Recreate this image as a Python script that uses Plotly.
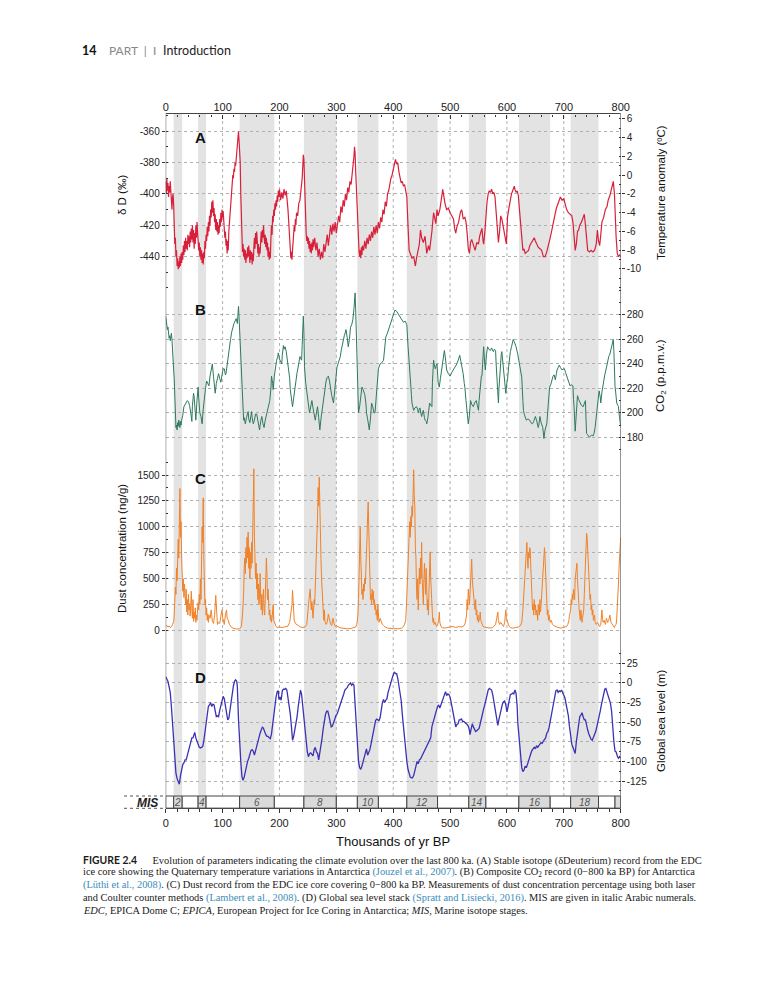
import plotly.graph_objects as go

W, H = 781, 1000
PAGE_MARGIN = 8  # browser body margin around the figure (each side)
FW, FH = W - 2 * PAGE_MARGIN, H - 2 * PAGE_MARGIN

# ---------------- data ----------------
# (A) EDC deuterium record: (age ka, deltaD permil)
DELTA_D = [(0,-392),(1,-400),(2,-390),(3,-398),(4,-393),(5,-402),(6,-395),(7,-399),(8,-392),(9,-401),(10,-404),(11,-410),(12,-402),(13,-400),(14,-407),(15,-418),(16,-432),(17,-428),(18,-440),(19,-436),(20,-446),(21,-441),(22,-448),(23,-443),(24,-447),(25,-440),(26,-446),(27,-438),(28,-444),(29,-437),(30,-442),(31,-433),(32,-439),(33,-430),(34,-437),(35,-428),(36,-435),(37,-430),(38,-436),(39,-426),(40,-432),(41,-427),(42,-434),(43,-424),(44,-431),(45,-422),(46,-429),(47,-420),(48,-431),(49,-423),(50,-435),(51,-425),(52,-432),(53,-420),(54,-428),(55,-418),(56,-426),(57,-430),(58,-436),(59,-431),(60,-440),(61,-434),(62,-442),(63,-436),(64,-444),(65,-438),(66,-445),(67,-437),(68,-441),(69,-430),(70,-435),(71,-426),(72,-430),(73,-421),(74,-427),(75,-418),(76,-424),(77,-414),(78,-420),(79,-410),(80,-415),(81,-405),(82,-412),(83,-404),(84,-414),(85,-409),(86,-418),(87,-413),(88,-423),(89,-416),(90,-424),(91,-418),(92,-426),(93,-420),(94,-425),(95,-416),(96,-421),(97,-412),(98,-418),(99,-410),(100,-415),(101,-411),(102,-418),(103,-422),(104,-428),(105,-424),(106,-433),(107,-429),(108,-438),(109,-430),(110,-436),(111,-424),(112,-418),(113,-410),(114,-405),(115,-400),(116,-396),(117,-392),(118,-388),(119,-390),(120,-384),(121,-386),(122,-380),(123,-382),(124,-377),(125,-372),(126,-367),(127,-362),(128,-360),(129,-366),(130,-372),(131,-380),(132,-400),(133,-420),(134,-434),(135,-437),(136,-432),(137,-440),(138,-435),(139,-442),(140,-436),(141,-444),(142,-438),(143,-441),(144,-434),(145,-440),(146,-433),(147,-439),(148,-444),(149,-436),(150,-442),(151,-437),(152,-445),(153,-438),(154,-443),(155,-434),(156,-428),(157,-435),(158,-425),(159,-432),(160,-424),(161,-430),(162,-438),(163,-432),(164,-440),(165,-434),(166,-438),(167,-430),(168,-424),(169,-431),(170,-423),(171,-428),(172,-420),(173,-427),(174,-432),(175,-426),(176,-434),(177,-428),(178,-436),(179,-431),(180,-440),(181,-434),(182,-442),(183,-437),(184,-441),(185,-428),(186,-420),(187,-426),(188,-414),(189,-418),(190,-410),(191,-414),(192,-406),(193,-410),(194,-404),(195,-408),(196,-401),(197,-405),(198,-398),(199,-402),(200,-397),(202,-404),(204,-399),(206,-403),(208,-397),(210,-401),(212,-398),(214,-404),(215,-410),(216,-416),(217,-422),(218,-430),(219,-436),(220,-441),(221,-437),(222,-442),(223,-436),(224,-430),(225,-425),(226,-420),(227,-424),(228,-416),(229,-420),(230,-412),(232,-414),(234,-406),(236,-404),(238,-398),(240,-390),(241,-382),(242,-375),(243,-378),(244,-395),(245,-408),(246,-418),(247,-425),(248,-430),(249,-427),(250,-432),(251,-428),(252,-435),(253,-430),(254,-437),(255,-432),(256,-438),(257,-431),(258,-436),(259,-429),(260,-434),(262,-428),(264,-436),(266,-431),(268,-440),(270,-435),(272,-442),(274,-437),(276,-441),(278,-432),(280,-437),(282,-430),(284,-426),(286,-433),(288,-424),(290,-420),(292,-426),(294,-419),(296,-424),(298,-418),(300,-425),(302,-420),(304,-414),(306,-418),(308,-408),(310,-412),(312,-404),(314,-408),(316,-400),(318,-404),(320,-396),(322,-399),(324,-392),(326,-394),(328,-388),(330,-382),(331,-376),(332,-370),(333,-374),(334,-385),(335,-395),(336,-405),(337,-415),(338,-425),(339,-432),(340,-437),(341,-440),(342,-436),(343,-441),(344,-434),(345,-439),(346,-433),(348,-436),(350,-430),(352,-435),(354,-428),(356,-432),(358,-426),(360,-430),(362,-424),(364,-428),(366,-421),(368,-426),(370,-420),(372,-425),(374,-418),(376,-422),(378,-415),(380,-418),(382,-410),(384,-413),(386,-405),(388,-408),(390,-400),(392,-398),(394,-393),(396,-390),(398,-388),(400,-385),(402,-382),(404,-378),(406,-381),(408,-380),(410,-386),(412,-391),(414,-393),(416,-392),(418,-395),(420,-394),(422,-398),(424,-402),(426,-420),(428,-436),(430,-438),(433,-441),(436,-440),(439,-446),(441,-441),(444,-436),(446,-432),(448,-423),(450,-428),(453,-431),(456,-427),(459,-438),(462,-433),(464,-436),(466,-431),(468,-424),(471,-412),(473,-416),(475,-419),(477,-410),(479,-414),(482,-410),(484,-406),(486,-400),(487,-397),(489,-402),(491,-406),(494,-410),(497,-409),(500,-412),(503,-414),(506,-416),(508,-422),(510,-425),(512,-421),(515,-418),(518,-412),(520,-410),(521,-411),(523,-416),(526,-415),(528,-418),(530,-425),(532,-435),(534,-438),(536,-431),(538,-429),(541,-433),(544,-436),(547,-431),(550,-432),(552,-427),(554,-425),(556,-422),(558,-430),(559,-432),(561,-425),(563,-414),(565,-405),(567,-400),(569,-398),(571,-399),(573,-397),(575,-400),(577,-399),(579,-402),(581,-410),(583,-420),(585,-431),(587,-424),(589,-414),(591,-416),(594,-421),(597,-428),(599,-432),(601,-415),(603,-410),(606,-404),(608,-400),(611,-397),(613,-395),(614,-397),(616,-399),(618,-398),(620,-401),(622,-410),(624,-420),(626,-431),(628,-436),(630,-435),(632,-438),(635,-437),(638,-436),(640,-433),(643,-431),(645,-430),(648,-428),(650,-430),(653,-432),(655,-434),(658,-435),(661,-436),(664,-440),(667,-440),(670,-437),(673,-433),(676,-428),(679,-423),(682,-416),(684,-414),(687,-409),(690,-406),(692,-403),(694,-402),(697,-404),(700,-403),(702,-406),(705,-410),(708,-412),(711,-413),(714,-414),(716,-418),(718,-425),(720,-436),(722,-432),(724,-424),(726,-423),(728,-420),(731,-418),(734,-414),(736,-413),(738,-420),(740,-428),(742,-436),(745,-437),(748,-436),(751,-437),(754,-436),(757,-432),(759,-423),(761,-430),(763,-433),(765,-426),(767,-418),(770,-415),(773,-410),(776,-408),(778,-404),(781,-401),(784,-397),(786,-394),(787,-392),(789,-400),(790,-414),(792,-428),(794,-438),(796,-440),(798,-439),(800,-440)]

# (B) composite CO2 record: (age ka, ppmv)
CO2 = [(0,279),(1,276),(2,272),(3,268),(4,270),(5,266),(6,261),(7,263),(8,259),(9,262),(10,265),(11,260),(12,245),(13,238),(14,235),(15,228),(16,205),(17,192),(18,188),(19,190),(20,186),(21,192),(22,189),(23,194),(24,190),(25,188),(26,193),(27,190),(28,194),(30,198),(32,205),(34,207),(36,209),(38,210),(40,209),(42,206),(44,200),(46,193),(47,206),(49,216),(50,213),(51,202),(53,194),(55,210),(57,221),(58,212),(60,200),(62,197),(64,191),(66,203),(68,213),(70,220),(72,226),(74,224),(76,222),(78,230),(80,236),(82,240),(84,230),(86,220),(87,216),(89,224),(91,230),(93,232),(95,228),(97,225),(99,231),(101,236),(103,236),(105,231),(106,232),(108,240),(110,249),(112,253),(114,260),(116,266),(118,270),(120,273),(122,275),(124,277),(126,273),(127,280),(128,287),(129,278),(130,268),(131,262),(132,248),(133,235),(134,224),(135,210),(136,200),(137,194),(138,196),(140,191),(142,196),(144,199),(145,201),(146,195),(148,192),(150,198),(151,201),(152,196),(154,191),(156,194),(158,199),(160,199),(162,193),(164,189),(165,186),(167,193),(169,197),(171,191),(173,188),(175,194),(177,199),(178,200),(180,204),(182,208),(183,210),(185,220),(186,230),(188,224),(189,219),(191,230),(193,238),(195,243),(197,246),(198,249),(200,244),(201,243),(203,240),(204,240),(205,247),(207,255),(208,252),(210,254),(212,250),(213,246),(215,242),(216,238),(218,228),(219,219),(221,210),(223,205),(225,212),(227,221),(229,228),(231,233),(232,235),(234,240),(236,246),(238,244),(239,243),(240,256),(241,270),(242,279),(243,265),(244,238),(246,225),(248,216),(250,208),(252,203),(253,200),(255,205),(257,210),(259,204),(261,198),(263,194),(265,200),(267,205),(269,196),(271,186),(273,195),(276,205),(278,215),(280,221),(282,226),(284,229),(286,230),(288,226),(290,219),(292,214),(294,210),(295,208),(297,217),(299,230),(301,237),(303,240),(305,243),(307,246),(309,252),(311,258),(312,260),(314,263),(316,266),(317,268),(319,262),(321,254),(323,260),(325,270),(327,272),(329,276),(331,285),(333,298),(334,285),(335,268),(336,254),(337,235),(338,215),(339,200),(341,205),(343,215),(345,221),(347,219),(349,216),(350,215),(352,208),(353,200),(355,195),(357,190),(358,186),(360,195),(362,208),(364,205),(366,200),(368,200),(370,215),(372,229),(374,236),(377,240),(380,241),(383,243),(385,252),(387,262),(389,264),(392,268),(395,273),(397,276),(400,279),(403,284),(406,283),(409,281),(412,279),(415,276),(418,274),(421,275),(424,272),(426,255),(428,238),(430,227),(432,215),(433,208),(435,203),(436,202),(438,204),(441,205),(443,203),(444,200),(446,203),(447,204),(449,199),(450,197),(452,201),(453,202),(455,196),(456,194),(458,193),(459,191),(461,196),(464,208),(466,206),(468,205),(469,225),(471,243),(472,240),(474,236),(476,239),(477,240),(479,225),(481,221),(483,228),(485,235),(487,244),(490,251),(492,244),(494,235),(497,232),(500,230),(503,233),(506,235),(509,238),(512,240),(515,244),(517,247),(519,242),(521,238),(523,232),(525,224),(526,221),(528,210),(529,205),(531,196),(532,191),(534,198),(536,210),(538,207),(541,205),(543,208),(546,210),(548,206),(550,202),(551,210),(553,224),(555,230),(556,230),(558,245),(559,254),(561,240),(562,235),(564,248),(566,254),(568,252),(571,251),(573,253),(576,250),(578,252),(580,251),(581,240),(582,229),(584,215),(585,208),(586,220),(588,237),(590,248),(591,250),(593,241),(594,237),(596,228),(598,216),(600,225),(601,227),(603,238),(604,243),(606,250),(608,254),(610,258),(611,260),(613,258),(616,254),(619,248),(622,240),(624,234),(626,229),(628,210),(629,202),(631,198),(634,194),(637,195),(640,194),(642,192),(645,191),(647,193),(650,197),(652,194),(655,188),(656,190),(658,197),(660,192),(663,188),(665,179),(667,186),(670,191),(672,205),(673,216),(675,221),(677,223),(679,228),(681,230),(683,231),(685,227),(687,232),(688,235),(690,237),(692,239),(694,237),(697,235),(699,236),(701,236),(703,233),(705,230),(708,226),(711,222),(713,223),(716,222),(717,211),(718,205),(720,185),(722,200),(724,214),(726,211),(729,208),(731,206),(734,205),(736,207),(738,210),(739,195),(740,183),(742,182),(745,180),(747,181),(749,182),(751,181),(753,183),(755,188),(758,202),(760,210),(762,218),(764,213),(765,208),(767,217),(770,227),(772,231),(774,235),(776,240),(779,246),(781,248),(783,252),(785,255),(787,260),(788,250),(790,222),(792,213),(793,208),(795,206),(796,205),(798,196),(800,189)]

# (C) EDC dust concentration: (age ka, ng/g)
DUST = [(0,40),(2,50),(4,35),(6,45),(8,30),(10,38),(12,60),(14,90),(15,150),(16,300),(17,420),(18,350),(19,600),(20,480),(21,750),(22,880),(23,700),(24,1000),(25,1370),(26,900),(27,1050),(28,700),(29,600),(30,380),(31,500),(32,320),(33,450),(34,360),(35,250),(36,400),(37,180),(38,300),(39,150),(40,350),(41,200),(42,260),(43,140),(44,240),(45,380),(46,200),(47,120),(48,300),(49,90),(50,180),(51,120),(52,220),(53,80),(54,150),(55,100),(56,200),(57,270),(58,200),(59,350),(60,250),(61,500),(62,300),(63,750),(64,1000),(65,850),(66,1280),(67,700),(68,400),(69,250),(70,300),(71,150),(72,220),(73,100),(74,160),(75,80),(76,150),(78,120),(80,200),(82,90),(84,70),(86,150),(88,340),(89,200),(90,100),(91,60),(93,80),(95,70),(97,140),(99,200),(100,130),(101,90),(103,60),(105,150),(107,200),(108,120),(110,100),(112,60),(114,40),(116,30),(118,25),(120,20),(125,15),(130,18),(133,40),(135,150),(136,250),(137,350),(138,600),(139,700),(140,550),(141,800),(142,650),(143,900),(144,700),(145,950),(146,600),(147,800),(148,500),(149,750),(150,600),(151,850),(152,650),(153,1000),(154,1300),(155,1560),(156,900),(157,600),(158,500),(159,650),(160,400),(161,550),(162,300),(163,450),(164,250),(165,350),(166,550),(167,300),(168,200),(169,350),(170,150),(171,300),(172,400),(173,200),(174,150),(175,300),(176,500),(177,700),(178,550),(179,300),(180,400),(181,200),(182,150),(183,200),(184,100),(185,150),(186,80),(187,120),(188,180),(189,250),(190,100),(191,80),(192,60),(194,40),(196,30),(200,35),(205,30),(210,40),(215,45),(218,80),(220,150),(222,250),(223,390),(224,300),(225,150),(226,100),(228,70),(230,60),(235,40),(240,30),(245,35),(248,60),(250,150),(251,250),(252,300),(253,350),(254,400),(255,300),(256,200),(257,280),(258,200),(259,120),(260,200),(261,300),(262,250),(263,400),(264,500),(265,700),(266,900),(267,1100),(268,1380),(269,1200),(270,1480),(271,1100),(272,900),(273,700),(274,500),(275,350),(276,250),(277,150),(278,100),(279,200),(280,90),(282,60),(284,80),(286,160),(288,100),(290,60),(292,50),(294,120),(296,70),(298,40),(300,50),(305,30),(310,25),(315,20),(320,18),(325,20),(330,25),(334,35),(336,60),(338,150),(339,300),(340,600),(341,800),(342,1000),(343,700),(344,450),(345,350),(346,400),(347,300),(348,450),(349,380),(350,500),(351,450),(352,600),(353,700),(354,900),(355,1100),(356,1240),(357,1000),(358,700),(359,400),(360,300),(361,350),(362,250),(363,400),(364,300),(365,380),(366,250),(367,300),(368,200),(369,250),(370,150),(371,200),(372,100),(373,250),(374,150),(375,80),(377,120),(379,80),(381,60),(383,50),(386,35),(390,25),(395,20),(400,18),(405,20),(410,18),(415,25),(418,40),(420,60),(422,100),(423,200),(424,350),(425,450),(426,600),(427,800),(428,1000),(429,1050),(430,900),(431,1100),(432,1000),(433,1200),(434,1100),(435,1400),(436,1550),(437,1300),(438,1200),(439,800),(440,700),(441,400),(442,300),(443,500),(444,200),(445,400),(446,600),(447,450),(448,700),(449,500),(450,850),(451,500),(452,400),(453,250),(454,500),(455,650),(456,500),(457,350),(458,600),(459,400),(460,200),(461,300),(462,150),(463,400),(464,600),(465,760),(466,500),(467,300),(468,250),(469,150),(470,80),(471,120),(472,60),(474,80),(476,40),(478,50),(480,100),(481,180),(482,80),(484,40),(486,30),(490,25),(495,30),(500,35),(505,40),(510,30),(515,40),(520,35),(525,50),(527,80),(529,150),(530,300),(531,200),(532,400),(533,300),(534,250),(535,350),(536,500),(537,600),(538,690),(539,500),(540,400),(541,350),(542,300),(543,250),(544,200),(545,300),(546,150),(547,200),(548,100),(549,150),(550,80),(552,120),(553,180),(554,100),(556,60),(558,40),(560,35),(565,30),(570,25),(575,30),(578,50),(580,60),(582,120),(584,180),(585,100),(587,60),(589,80),(591,60),(594,40),(596,80),(597,150),(598,200),(599,120),(601,70),(603,50),(606,30),(610,25),(615,30),(620,35),(624,50),(626,80),(628,200),(629,300),(630,400),(631,500),(632,600),(633,700),(634,800),(635,850),(636,700),(637,600),(638,750),(639,700),(640,800),(641,780),(642,600),(643,400),(644,300),(645,200),(646,250),(647,150),(648,300),(649,200),(650,250),(651,150),(652,200),(653,180),(654,100),(655,250),(656,200),(657,150),(658,300),(659,180),(660,250),(661,350),(662,500),(663,600),(664,650),(665,750),(666,800),(667,700),(668,500),(669,350),(670,250),(671,150),(672,200),(673,100),(674,150),(676,80),(678,100),(680,60),(682,50),(685,40),(690,30),(695,25),(700,30),(705,40),(707,60),(709,100),(710,150),(712,200),(713,300),(714,250),(715,350),(716,300),(717,400),(718,350),(719,300),(720,500),(721,550),(722,600),(723,650),(724,500),(725,350),(726,300),(727,200),(728,150),(729,100),(730,200),(731,150),(732,80),(733,120),(734,150),(735,200),(736,350),(737,500),(738,700),(739,850),(740,940),(741,900),(742,800),(743,700),(744,500),(745,400),(746,300),(747,350),(748,200),(749,250),(750,150),(751,200),(752,100),(754,150),(755,80),(757,60),(759,80),(761,50),(763,40),(765,60),(766,150),(767,200),(768,120),(769,80),(771,100),(773,60),(775,120),(777,80),(779,100),(781,150),(783,80),(785,60),(787,40),(789,30),(790,50),(792,60),(793,120),(795,300),(796,450),(797,600),(798,750),(800,900)]

# (D) global sea level stack: (age ka, m)
SEA_LEVEL = [(0,8),(2,5),(4,2),(6,-5),(8,-12),(10,-30),(12,-55),(14,-73),(16,-100),(18,-115),(20,-122),(22,-127),(24,-129),(26,-118),(28,-110),(30,-104),(32,-102),(34,-98),(36,-98),(38,-92),(40,-85),(42,-78),(44,-76),(46,-70),(48,-70),(50,-66),(51,-63),(53,-70),(55,-75),(57,-80),(59,-82),(61,-83),(63,-82),(65,-81),(67,-74),(69,-64),(71,-50),(73,-40),(75,-30),(77,-28),(79,-25),(81,-30),(83,-27),(85,-28),(87,-36),(89,-43),(91,-42),(93,-43),(95,-35),(97,-28),(99,-20),(101,-17),(103,-20),(105,-28),(107,-40),(109,-47),(111,-45),(113,-35),(115,-22),(117,-10),(119,-4),(121,2),(123,4),(125,2),(126,-5),(128,-47),(130,-80),(132,-100),(134,-119),(136,-124),(138,-120),(140,-112),(142,-107),(144,-100),(146,-96),(148,-92),(150,-86),(152,-85),(154,-87),(156,-92),(158,-86),(160,-78),(162,-72),(164,-68),(166,-64),(168,-60),(170,-56),(172,-58),(174,-64),(176,-66),(178,-68),(180,-68),(182,-70),(184,-71),(186,-65),(188,-55),(190,-42),(192,-30),(194,-18),(196,-11),(198,-10),(199,-21),(201,-18),(203,-22),(205,-10),(207,-8),(209,-8),(211,-7),(213,-9),(215,-18),(217,-30),(219,-39),(221,-55),(223,-73),(225,-68),(227,-60),(229,-50),(231,-43),(233,-30),(235,-20),(237,-9),(239,-15),(241,-30),(243,-50),(245,-65),(247,-78),(249,-88),(251,-94),(253,-90),(255,-89),(257,-92),(259,-93),(261,-85),(263,-82),(265,-88),(267,-90),(269,-98),(271,-90),(273,-82),(275,-70),(277,-58),(279,-47),(281,-40),(283,-36),(285,-36),(287,-42),(289,-50),(291,-56),(293,-55),(295,-52),(297,-47),(299,-42),(301,-40),(303,-36),(305,-32),(307,-28),(309,-24),(311,-18),(313,-14),(315,-9),(317,-8),(319,-6),(321,-3),(323,-2),(325,0),(327,-3),(329,-1),(331,-3),(333,-30),(335,-55),(337,-80),(339,-100),(341,-108),(343,-110),(345,-106),(347,-100),(349,-93),(351,-87),(353,-84),(355,-92),(357,-88),(359,-85),(361,-78),(363,-70),(365,-64),(367,-55),(369,-48),(371,-46),(373,-47),(375,-48),(377,-44),(379,-32),(381,-25),(383,-21),(385,-25),(387,-22),(389,-20),(391,-12),(393,-6),(395,-3),(397,2),(399,8),(401,12),(402,14),(404,12),(406,12),(408,6),(410,-5),(412,-9),(414,-22),(416,-40),(418,-56),(420,-75),(422,-88),(424,-100),(426,-110),(428,-116),(430,-120),(432,-121),(434,-121),(436,-118),(438,-112),(440,-108),(442,-100),(444,-103),(446,-98),(448,-97),(450,-94),(452,-92),(454,-88),(456,-85),(458,-83),(460,-80),(462,-77),(464,-74),(466,-70),(468,-56),(470,-50),(472,-43),(474,-37),(476,-35),(478,-30),(480,-28),(482,-32),(484,-28),(486,-22),(488,-18),(490,-15),(492,-11),(494,-16),(496,-14),(498,-15),(500,-18),(502,-25),(504,-33),(506,-40),(508,-52),(510,-56),(512,-53),(514,-52),(516,-47),(518,-47),(520,-46),(522,-49),(524,-49),(526,-50),(528,-51),(530,-53),(532,-55),(534,-60),(535,-66),(537,-57),(539,-52),(541,-56),(543,-60),(545,-62),(547,-61),(549,-60),(551,-58),(553,-52),(555,-44),(557,-38),(559,-33),(561,-28),(563,-20),(565,-13),(567,-9),(569,-7),(571,-8),(573,-9),(575,-15),(577,-24),(579,-34),(581,-43),(583,-50),(584,-54),(586,-46),(588,-38),(590,-30),(592,-27),(594,-24),(596,-23),(598,-28),(600,-37),(602,-30),(604,-20),(606,-15),(608,-14),(610,-13),(612,-14),(614,-9),(616,-13),(618,-30),(619,-50),(622,-77),(624,-98),(626,-108),(628,-113),(630,-111),(632,-106),(634,-108),(636,-104),(638,-98),(640,-94),(642,-90),(644,-86),(646,-83),(648,-82),(650,-84),(652,-80),(654,-82),(656,-79),(658,-78),(660,-76),(662,-77),(664,-74),(666,-72),(668,-70),(670,-64),(672,-62),(674,-57),(676,-49),(678,-40),(680,-30),(682,-22),(684,-14),(686,-10),(688,-9),(690,-12),(692,-10),(694,-11),(696,-9),(698,-12),(700,-16),(702,-19),(704,-27),(706,-34),(708,-42),(710,-56),(712,-68),(714,-78),(716,-82),(718,-86),(720,-90),(722,-75),(724,-62),(726,-52),(728,-43),(730,-41),(732,-38),(734,-43),(736,-47),(738,-47),(740,-55),(742,-60),(744,-65),(746,-70),(748,-72),(750,-73),(752,-70),(754,-66),(756,-62),(758,-56),(760,-50),(762,-44),(764,-36),(766,-28),(768,-20),(770,-14),(772,-8),(774,-7),(776,-12),(778,-15),(780,-20),(782,-26),(784,-36),(786,-58),(788,-75),(790,-87),(792,-88),(794,-93),(796,-96),(798,-94),(800,-96)]

GLACIAL_BANDS = [(14, 29), (57, 71), (130, 191), (243, 300), (337, 374),
                 (424, 478), (533, 563), (621, 676), (712, 761)]
MIS_BOUNDS = [0, 14, 29, 57, 71, 130, 191, 243, 300, 337, 374, 424, 478,
              533, 563, 621, 676, 712, 761, 790, 800]
MIS_STAGES = list(range(1, 21))
MIS_LABELED = [2, 4, 6, 8, 10, 12, 14, 16, 18]

X_TICKS = [0, 100, 200, 300, 400, 500, 600, 700, 800]
DD_TICKS = [-440, -420, -400, -380, -360]
TEMP_TICKS = [-10, -8, -6, -4, -2, 0, 2, 4, 6]
CO2_TICKS = [180, 200, 220, 240, 260, 280]
DUST_TICKS = [0, 250, 500, 750, 1000, 1250, 1500]
SL_TICKS = [-125, -100, -75, -50, -25, 0, 25]

# ---------------- geometry helpers (page pixels -> paper) ----------------
def px(sx):
    return (sx - PAGE_MARGIN) / FW


def py(sy):
    return 1 - (sy - PAGE_MARGIN) / FH


X0, X1 = 165.7, 620.7
TOP, MIS_TOP, BOTTOM = 113.5, 796.0, 808.3

TICKFONT = dict(family="Liberation Sans, Arial", size=10, color="#222")
GRID = "#b0b0b0"
AXC = "#333"


def yax(domain, rng, ticks, side, grid=True, minor=None, overlay=None):
    d = dict(range=rng, anchor="x", side=side, tickmode="array",
             tickvals=ticks, ticktext=[str(t) for t in ticks],
             ticks="outside", ticklen=3, tickcolor=AXC, tickwidth=1,
             showline=False, zeroline=False, showgrid=grid,
             gridcolor=GRID, griddash="dot", gridwidth=1, automargin=False,
             tickfont=TICKFONT, fixedrange=True)
    if overlay:
        d["overlaying"] = overlay
    else:
        d["domain"] = domain
    if minor is not None:
        d["minor"] = dict(tickmode="linear", tick0=ticks[0], dtick=minor,
                          ticks="inside", ticklen=2, tickcolor=AXC,
                          showgrid=False)
    return d


fig = go.Figure()


def series(points, color, xa, ya, width=1.0):
    fig.add_trace(go.Scatter(x=[p[0] for p in points], y=[p[1] for p in points],
                             mode="lines", xaxis=xa, yaxis=ya, hoverinfo="skip",
                             line=dict(color=color, width=width), showlegend=False))


series(DELTA_D, "#d9203a", "x2", "y", 1.2)
# empty trace that only registers the temperature-anomaly axis (no marks)
fig.add_trace(go.Scatter(x=[], y=[], xaxis="x2", yaxis="y2", mode="lines",
                         showlegend=False, hoverinfo="skip"))
series(CO2, "#2d7a5c", "x", "y3", 1.0)
series(DUST, "#f0822a", "x", "y4", 1.0)
series(SEA_LEVEL, "#3a32b4", "x", "y5", 1.3)

xcommon = dict(domain=[px(X0), px(X1)], range=[0, 800], anchor="free",
               tickmode="array", tickvals=X_TICKS, ticklen=4, tickcolor=AXC,
               showline=False, showgrid=False, zeroline=False, automargin=False,
               tickfont=dict(family="Liberation Sans, Arial", size=11, color="#222"),
               fixedrange=True)

fig.update_layout(
    width=FW, height=FH,
    margin=dict(l=0, r=0, t=0, b=0, pad=0, autoexpand=False),
    paper_bgcolor="white", plot_bgcolor="rgba(0,0,0,0)",
    showlegend=False,
    xaxis=dict(xcommon, position=py(BOTTOM), side="bottom", ticks="outside",
               minor=dict(tickmode="linear", tick0=0, dtick=20, ticks="outside",
                          ticklen=2.5, tickcolor=AXC)),
    xaxis2=dict(xcommon, position=py(TOP), side="top", overlaying="x",
                ticks="inside",
                minor=dict(tickmode="linear", tick0=0, dtick=20, ticks="inside",
                           ticklen=2.5, tickcolor=AXC)),
    yaxis=yax([py(290), py(TOP)], [-461.3, -348.7], DD_TICKS, "left", minor=10),
    yaxis2=yax(None, [-12.24, 6.57], TEMP_TICKS, "right", grid=False, minor=1, overlay="y"),
    yaxis3=yax([py(450), py(290)], [169.6, 300.4], CO2_TICKS, "right", minor=10),
    yaxis4=yax([py(640), py(455)], [-89.9, 1692.7], DUST_TICKS, "left", minor=125),
    yaxis5=yax([py(MIS_TOP), py(645)], [-144.1, 48.4], SL_TICKS, "right", minor=12.5),
)

shapes = []
for a, b in GLACIAL_BANDS:
    shapes.append(dict(type="rect", xref="x", yref="paper", x0=a, x1=b,
                       y0=py(BOTTOM), y1=py(TOP), fillcolor="#e3e3e3",
                       line=dict(width=0), layer="below"))
for t in X_TICKS[1:-1]:
    shapes.append(dict(type="line", xref="x", yref="paper", x0=t, x1=t,
                       y0=py(MIS_TOP), y1=py(TOP),
                       line=dict(color=GRID, width=1, dash="dot"), layer="below"))
for i, st in enumerate(MIS_STAGES):
    shapes.append(dict(type="rect", xref="x", yref="paper",
                       x0=MIS_BOUNDS[i], x1=MIS_BOUNDS[i + 1],
                       y0=py(BOTTOM), y1=py(MIS_TOP),
                       fillcolor="#dadada" if st % 2 == 0 else "white",
                       line=dict(color="#444", width=1), layer="above"))
shapes.append(dict(type="rect", xref="x", yref="paper", x0=0, x1=800,
                   y0=py(BOTTOM), y1=py(TOP), fillcolor="rgba(0,0,0,0)",
                   line=dict(color="#444", width=1), layer="above"))
for sy in (MIS_TOP, BOTTOM):
    shapes.append(dict(type="line", xref="paper", yref="paper", x0=px(124),
                       x1=px(X0), y0=py(sy), y1=py(sy),
                       line=dict(color="#555", width=1, dash="dot")))
fig.update_layout(shapes=shapes)

ann = []


def text(sx, sy, s, size=11, family="Liberation Sans, Arial", color="#111",
         xanchor="center", angle=0, yanchor="middle"):
    ann.append(dict(xref="paper", yref="paper", x=px(sx), y=py(sy), text=s,
                    showarrow=False, xanchor=xanchor, yanchor=yanchor,
                    textangle=angle, font=dict(size=size, family=family, color=color)))


# MIS stage numbers
for i, st in enumerate(MIS_STAGES):
    if st in MIS_LABELED:
        ann.append(dict(xref="x", yref="paper",
                        x=(MIS_BOUNDS[i] + MIS_BOUNDS[i + 1]) / 2,
                        y=py((MIS_TOP + BOTTOM) / 2), text="<i>%d</i>" % st,
                        showarrow=False, xanchor="center", yanchor="middle",
                        font=dict(size=10, family="Liberation Sans, Arial", color="#555")))
text(147, 802.5, "<b><i>MIS</i></b>", size=12, color="#222")

# panel letters
for letter, sy in (("A", 138), ("B", 309), ("C", 478), ("D", 677)):
    text(200, sy, "<b>%s</b>" % letter, size=15, color="#111")

# axis titles
text(122, 195, "\u03b4 D (\u2030)", size=11.5, angle=-90)
text(661, 193, "Temperature anomaly (\u00baC)", size=11.5, angle=-90)
text(661, 376, "CO<sub>2</sub> (p.p.m.v.)", size=11.5, angle=-90)
text(122, 549, "Dust concentration (ng/g)", size=11.5, angle=-90)
text(661, 721, "Global sea level (m)", size=11.5, angle=-90)
text(393, 841, "Thousands of yr BP", size=13)

# page header
text(80, 50, "<b>14</b>", size=12.5, family="Lato, Open Sans", color="#111", xanchor="left")
text(107, 50, "PART  |  I", size=12, family="Lato, Open Sans", color="#888", xanchor="left")
text(161, 50, "Introduction", size=12.5, family="Lato, Open Sans", color="#222", xanchor="left")

# caption
CIT = '<span style="color:#3a8cb8">%s</span>'
SERIF = "Liberation Serif, Times New Roman"
cap_lines = [
    '<span style="font-family:Lato;font-weight:bold">FIGURE 2.4</span>'
    '\u2003\u2002Evolution of parameters indicating the climate evolution over the last 800 ka. (A) Stable isotope (\u03b4Deuterium) record from the EDC',
    "ice core showing the Quaternary temperature variations in Antarctica " + CIT % "(Jouzel et al., 2007)"
    + ". (B) Composite CO<sub>2</sub> record (0\u2212800 ka BP) for Antarctica",
    CIT % "(L\u00fcthi et al., 2008)" + ". (C) Dust record from the EDC ice core covering 0\u2212800 ka BP. Measurements of dust concentration percentage using both laser",
    "and Coulter counter methods " + CIT % "(Lambert et al., 2008)" + ". (D) Global sea level stack "
    + CIT % "(Spratt and Lisiecki, 2016)" + ". MIS are given in italic Arabic numerals.",
    "<i>EDC</i>, EPICA Dome C; <i>EPICA</i>, European Project for Ice Coring in Antarctica; <i>MIS</i>, Marine isotope stages.",
]
for k, line in enumerate(cap_lines):
    text(80.5, 860 + 12.7 * k, line, size=10.4, family=SERIF, color="#1a1a1a", xanchor="left")

fig.update_layout(annotations=ann)
fig.write_html("out.html")
